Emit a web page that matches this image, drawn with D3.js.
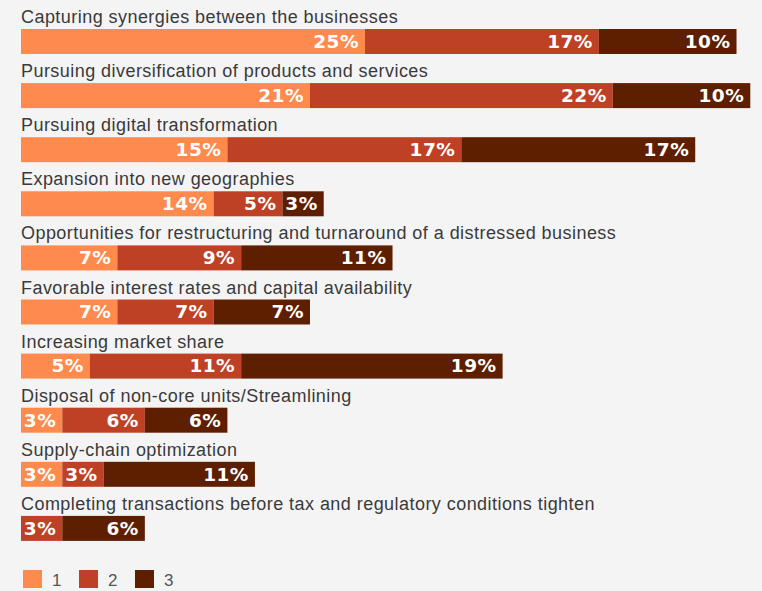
<!DOCTYPE html>
<html>
<head>
<meta charset="utf-8">
<script src="https://cdn.jsdelivr.net/npm/d3@7/dist/d3.min.js"></script>
<style>
  html, body { margin: 0; padding: 0; background: #f4f4f4; }
  svg { display: block; }
  .cat { font-family: "Liberation Sans", Arial, sans-serif; font-size: 18px; fill: #3a3a3a; letter-spacing: 0.45px; }
  .val { font-family: "DejaVu Sans", sans-serif; font-weight: bold; font-size: 18.5px; fill: #ffffff; letter-spacing: 0.5px; }
  .leg { font-family: "Liberation Sans", Arial, sans-serif; font-size: 17px; fill: #555; }
</style>
</head>
<body>
<svg id="chart" width="762" height="591"></svg>
<script>
// Reasons for the deal, split by rank (1 = most important)
const categories = [
  "Capturing synergies between the businesses",
  "Pursuing diversification of products and services",
  "Pursuing digital transformation",
  "Expansion into new geographies",
  "Opportunities for restructuring and turnaround of a distressed business",
  "Favorable interest rates and capital availability",
  "Increasing market share",
  "Disposal of non-core units/Streamlining",
  "Supply-chain optimization",
  "Completing transactions before tax and regulatory conditions tighten"
];
const rank1 = [25, 21, 15, 14, 7, 7, 5, 3, 3, 0];
const rank2 = [17, 22, 17, 5, 9, 7, 11, 6, 3, 3];
const rank3 = [10, 10, 17, 3, 11, 7, 19, 6, 11, 6];
const seriesKeys = ["1", "2", "3"];
const colors = ["#fe8a4d", "#bf4125", "#5e1e00"];

const rows = categories.map((c, i) => ({ cat: c, "1": rank1[i], "2": rank2[i], "3": rank3[i] }));
const stacked = d3.stack().keys(seriesKeys)(rows);

const svg = d3.select("#chart");
const left = 21;
const x = d3.scaleLinear().domain([0, 100]).range([left, left + 1376]);

const rowStep = 54.1, firstBarTop = 29, barH = 25;
const y = i => firstBarTop + i * rowStep;

// category titles above each bar
svg.selectAll("text.cat").data(categories).join("text")
  .attr("class", "cat")
  .attr("x", left)
  .attr("y", (d, i) => y(i) - 6)
  .text(d => d);

// stacked segments
const layers = svg.selectAll("g.layer").data(stacked).join("g")
  .attr("class", "layer")
  .attr("fill", (d, i) => colors[i]);

layers.selectAll("rect").data(d => d.map((s, i) => ({ s, i })).filter(o => o.s[1] > o.s[0]))
  .join("rect")
  .attr("x", o => x(o.s[0]))
  .attr("y", o => y(o.i))
  .attr("width", o => x(o.s[1]) - x(o.s[0]))
  .attr("height", barH);

// value labels, right-aligned inside each segment
layers.selectAll("text").data(d => d.map((s, i) => ({ s, i })).filter(o => o.s[1] > o.s[0]))
  .join("text")
  .attr("class", "val")
  .attr("text-anchor", "end")
  .attr("x", o => x(o.s[1]) - 6)
  .attr("y", o => y(o.i) + 18.8)
  .text(o => (o.s[1] - o.s[0]) + "%");

// legend
const leg = svg.selectAll("g.legend").data(seriesKeys).join("g")
  .attr("class", "legend")
  .attr("transform", (d, i) => `translate(${23 + i * 56},570)`);
leg.append("rect").attr("width", 19).attr("height", 18).attr("fill", (d, i) => colors[i]);
leg.append("text").attr("class", "leg").attr("x", 29).attr("y", 16).text(d => d);
</script>
</body>
</html>
